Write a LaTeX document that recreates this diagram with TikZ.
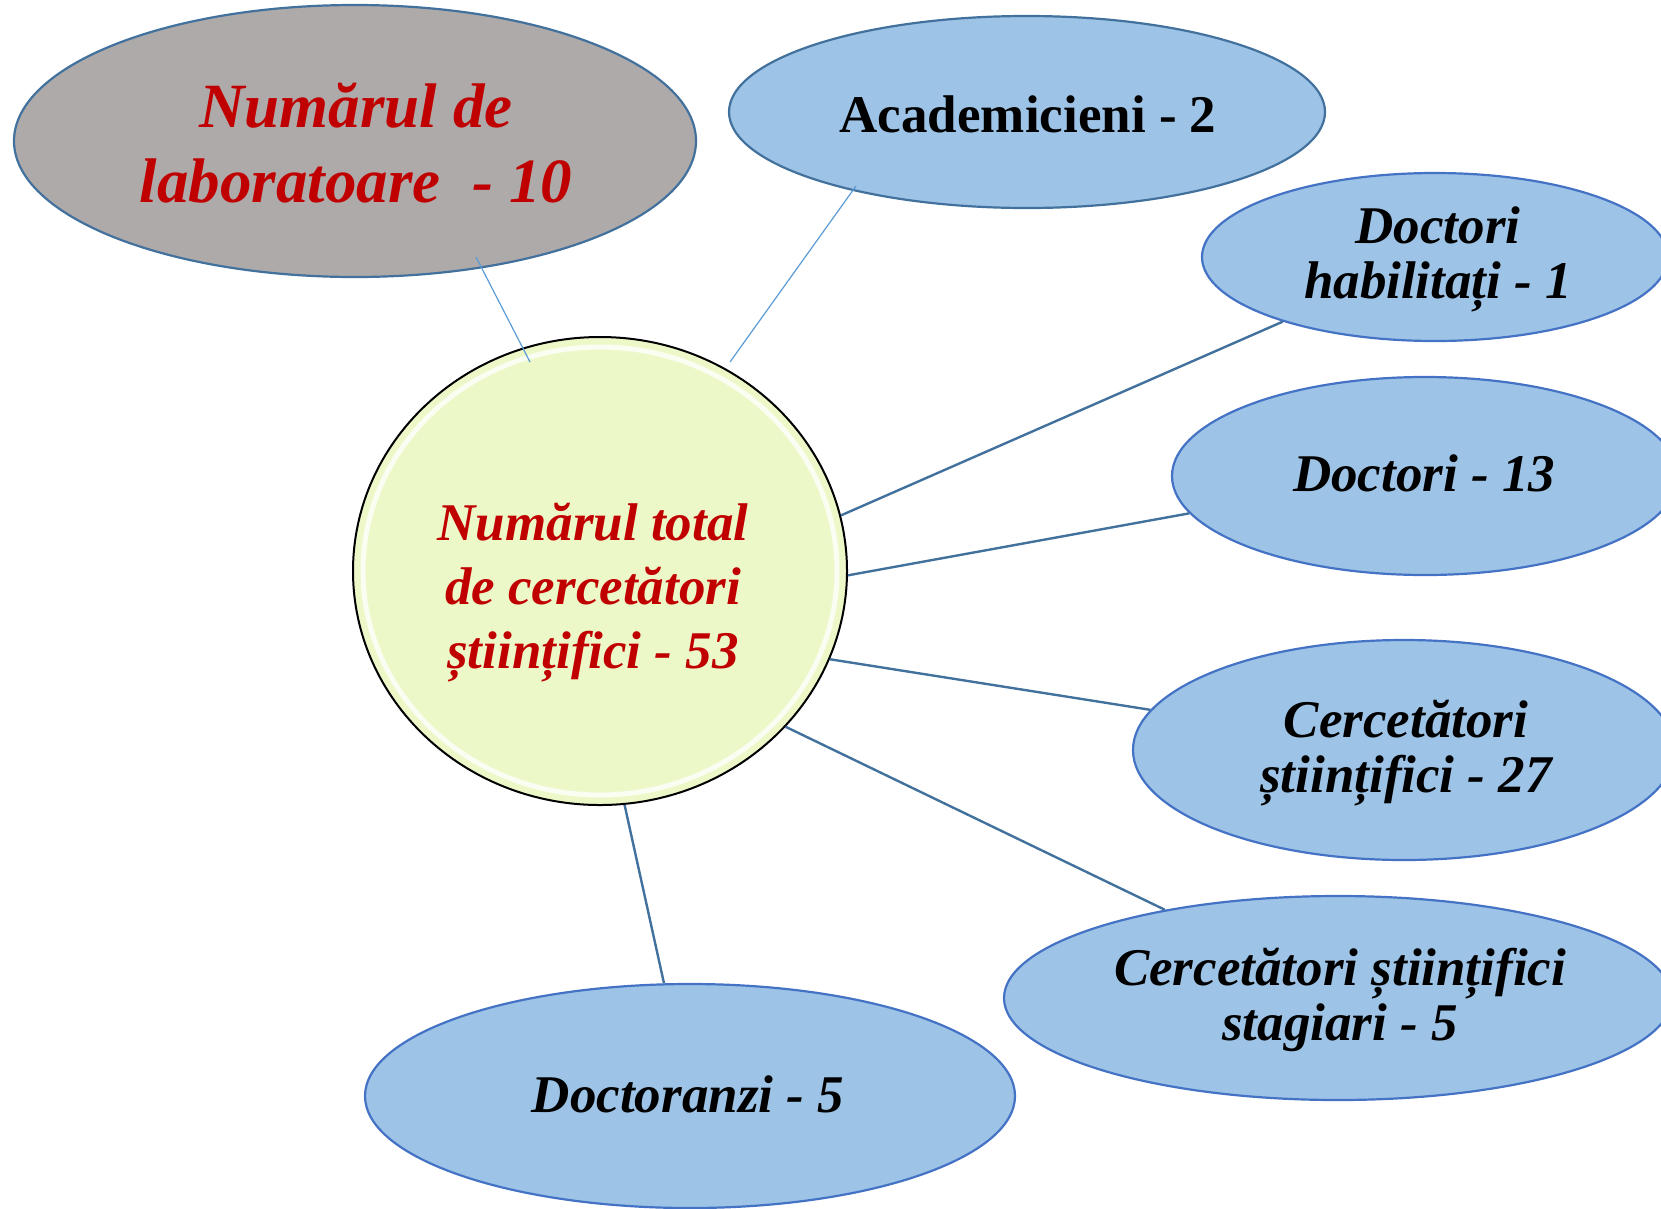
\documentclass[tikz,border=0pt]{standalone}
\usepackage{fontspec}
\setmainfont{Liberation Serif}
\usetikzlibrary{shapes.geometric,calc}
\definecolor{bluefill}{RGB}{157,195,230}
\definecolor{blueedge}{RGB}{68,114,196}
\definecolor{steel}{RGB}{65,113,156}
\definecolor{thinblue}{RGB}{91,155,213}
\definecolor{grayfill}{RGB}{174,170,170}
\definecolor{circfill}{RGB}{237,248,200}
\definecolor{darkred}{RGB}{192,0,0}
\tikzset{
  oval/.style={ellipse, draw=blueedge, fill=bluefill, line width=2.2pt, inner sep=0pt},
  link/.style={draw=steel, line width=2.4pt},
  thinlink/.style={draw=thinblue, line width=1.2pt},
  lbl/.style={align=center, text=black, inner sep=0pt},
  bigbi/.style={font=\bfseries\itshape\fontsize{53}{55}\selectfont},
}
\begin{document}
\begin{tikzpicture}[x=1pt,y=-1pt]
\useasboundingbox (0,0) rectangle (1661,1208);
\clip (0,0) rectangle (1661,1208);
% shapes
\node[oval, draw=steel, fill=grayfill, minimum width=682pt, minimum height=272pt] (lab) at (355,141) {};
\node[oval, draw=steel, minimum width=596pt, minimum height=192pt] (acad) at (1027,112) {};
\node[oval, minimum width=466pt, minimum height=168pt] (drhab) at (1435,257) {};
\node[oval, minimum width=506pt, minimum height=198pt] (doct) at (1425,476) {};
\node[oval, minimum width=542pt, minimum height=220pt] (cerc) at (1404,750) {};
\node[oval, minimum width=668pt, minimum height=204pt] (stag) at (1338,998) {};
\node[oval, minimum width=650pt, minimum height=224pt] (docz) at (690,1096) {};
\node[ellipse, draw=black, line width=2pt, fill=circfill, inner sep=0pt,
      minimum width=494pt, minimum height=468pt] (tot) at (600,571) {};
\draw[white, line width=5pt, opacity=0.75] (tot.center) ellipse [x radius=237pt, y radius=224pt];
% connectors
\coordinate (labEnd) at ($(lab.center)+(121,116)$);
\coordinate (totIn) at ($(tot.center)+(-70,-209)$);
\coordinate (acadEnd) at ($(acad.center)+(-171,74)$);
\coordinate (totTop) at ($(tot.center)+(130,-209)$);
\draw[thinlink] (labEnd) -- (totIn);
\draw[thinlink] (acadEnd) -- (totTop);
\draw[link] (drhab.203.7) -- (tot.13.8);
\draw[link] (doct.189.8) -- (tot.-1.4);
\draw[link] (cerc.171.3) -- (tot.-21.8);
\draw[link] (stag.153.4) -- (tot.-40);
\draw[link] (docz.103.1) -- (tot.-84.9);
% labels
\node[lbl, text=darkred, font=\bfseries\itshape\fontsize{63}{75}\selectfont] (labT) at (356,143) {Numărul de\\laboratoare\ \ - 10};
\node[lbl, text=darkred, font=\bfseries\itshape\fontsize{53}{64}\selectfont] (totT) at (593,593) {Numărul total\\de cercetători\\științifici - 53};
\node[lbl, font=\bfseries\fontsize{53}{64}\selectfont] (acadT) at (1028,114) {Academicieni - 2};
\node[lbl, bigbi] (drhabT) at (1438,259) {Doctori\\habilitați - 1};
\node[lbl, bigbi] (doctT) at (1424,473) {Doctori - 13};
\node[lbl, bigbi] (cercT) at (1406,753) {Cercetători\\științifici - 27};
\node[lbl, bigbi] (stagT) at (1340,1000) {Cercetători științifici\\stagiari - 5};
\node[lbl, bigbi] (doczT) at (688,1094) {Doctoranzi - 5};
\end{tikzpicture}
\end{document}
